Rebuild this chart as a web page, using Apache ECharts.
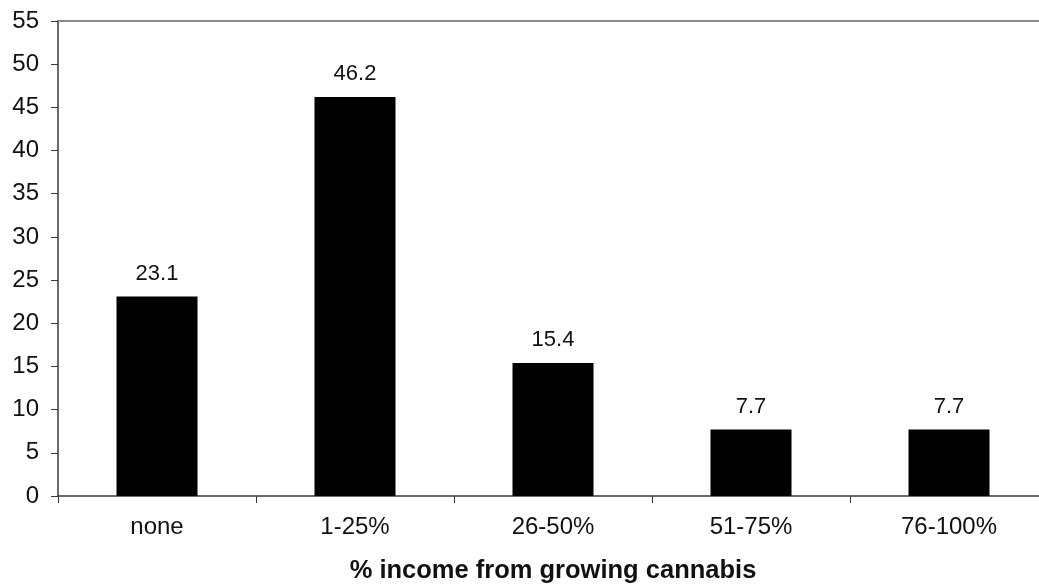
<!DOCTYPE html>
<html>
<head>
<meta charset="utf-8">
<script src="https://cdn.jsdelivr.net/npm/echarts@6/dist/echarts.min.js"></script>
<style>
  html, body { margin: 0; padding: 0; background: #ffffff; }
  #chart { width: 1039px; height: 585px; }
</style>
</head>
<body>
<div id="chart"></div>
<script>
// Share of growers by the part of their income that comes from cannabis
const categories = ['none', '1-25%', '26-50%', '51-75%', '76-100%'];
const percentages = [23.1, 46.2, 15.4, 7.7, 7.7];
const yTicks = { min: 0, max: 55, step: 5 };
const xTitle = '% income from growing cannabis';

const font = '"Liberation Sans", Arial, Helvetica, sans-serif';

const chart = echarts.init(document.getElementById('chart'), null, { renderer: 'canvas' });
chart.setOption({
  animation: false,
  backgroundColor: '#ffffff',
  textStyle: { fontFamily: font },
  grid: { left: 58, top: 21, bottom: 89, width: 990, containLabel: false, outerBoundsMode: 'none' },
  xAxis: [
    {
      type: 'category',
      data: categories,
      position: 'bottom',
      boundaryGap: true,
      axisLine: { lineStyle: { color: '#3a3a3a', width: 1.5 } },
      axisTick: { show: true, alignWithLabel: false, length: 7, lineStyle: { color: '#3a3a3a', width: 1 } },
      axisLabel: { color: '#111', fontSize: 24, margin: 19, fontFamily: font },
      name: xTitle,
      nameLocation: 'middle',
      nameGap: 62,
      nameTextStyle: { color: '#111', fontSize: 25.5, fontWeight: 'bold', fontFamily: font }
    },
    {
      // top border of the plot area
      type: 'category',
      data: categories,
      position: 'top',
      axisLine: { show: true, lineStyle: { color: '#8a8a8a', width: 2 } },
      axisTick: { show: false },
      axisLabel: { show: false }
    }
  ],
  yAxis: {
    type: 'value',
    min: yTicks.min,
    max: yTicks.max,
    interval: yTicks.step,
    axisLine: { show: true, lineStyle: { color: '#3a3a3a', width: 1.5 } },
    axisTick: { show: true, length: 7, lineStyle: { color: '#3a3a3a', width: 1 } },
    splitLine: { show: false },
    axisLabel: { color: '#111', fontSize: 24, margin: 19, fontFamily: font }
  },
  series: [{
    type: 'bar',
    data: percentages,
    xAxisIndex: 0,
    barWidth: 81,
    itemStyle: { color: '#000000' },
    label: {
      show: true,
      position: 'top',
      distance: 12,
      color: '#111',
      fontSize: 22,
      fontFamily: font,
      formatter: p => p.value.toFixed(1)
    }
  }]
});
</script>
</body>
</html>
